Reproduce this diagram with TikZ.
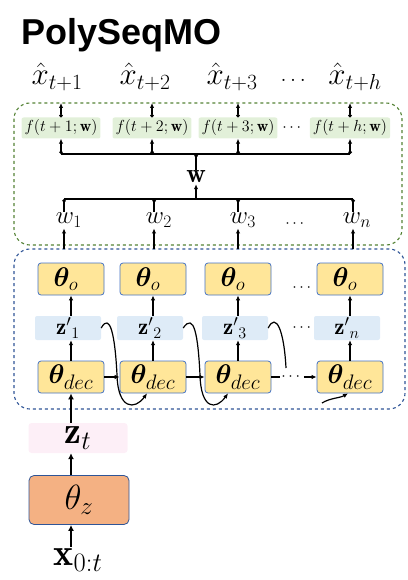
\RequirePackage{fix-cm}
\documentclass[tikz,border=0pt]{standalone}
\usepackage{amsmath,amssymb,bm}
\usepackage{fontspec}
\newfontfamily\titlefont{Liberation Sans}
\usepackage{xcolor}
\usepackage{tikz}
\usetikzlibrary{arrows.meta,positioning}

\definecolor{gline}{RGB}{84,130,53}
\definecolor{gfill}{RGB}{226,240,217}
\definecolor{bline}{RGB}{47,85,151}
\definecolor{bfill}{RGB}{222,235,247}
\definecolor{yfill}{RGB}{255,230,153}
\definecolor{yline}{RGB}{68,114,196}
\definecolor{pfill}{RGB}{253,239,247}
\definecolor{ofill}{RGB}{244,177,131}

\newcommand{\decsub}{\mbox{\fontsize{21}{22}\selectfont$dec$}}
\newcommand{\zsub}{\mbox{\fontsize{25}{27}\selectfont$z$}}

\tikzset{
  arr/.style={line width=1.2pt,-{Latex[length=5pt,width=4.5pt]}},
  dotarr/.style={line width=1.2pt,{Circle[length=3.5pt]}-{Latex[length=5pt,width=4.5pt]}},
  bigarr/.style={line width=2pt,-{Latex[length=6pt,width=6pt]}},
  fbox/.style={fill=gfill,rounded corners=2pt,minimum height=21pt,inner xsep=3pt,inner ysep=0pt,font=\fontsize{16}{18}\selectfont},
  obox/.style={fill=yfill,draw=yline,line width=0.8pt,rounded corners=3pt,minimum width=66pt,minimum height=32pt,inner sep=0pt,font=\fontsize{27}{29}\selectfont},
  zbox/.style={fill=bfill,rounded corners=2pt,minimum width=66pt,minimum height=24pt,inner sep=0pt,font=\fontsize{23}{25}\selectfont},
  lbl/.style={inner sep=1pt,font=\fontsize{31}{33}\selectfont},
  wlbl/.style={inner sep=1pt,font=\fontsize{25}{28}\selectfont},
  dotlbl/.style={inner sep=1pt,font=\fontsize{16}{18}\selectfont},
}

\begin{document}
\begin{tikzpicture}[x=1pt,y=-1pt]
\useasboundingbox (0,0) rectangle (407,580);

\node[anchor=base west,inner sep=0pt,font=\titlefont\bfseries\fontsize{36}{40}\selectfont] (title) at (21,45) {PolySeqMO};

% outputs
\foreach \x/\t [count=\i] in {57/1,145/2,232/3,355/h}
  \node[lbl] (xh\i) at (\x,77) {$\hat{x}_{t+\t}$};
\node[inner sep=1pt,font=\fontsize{22}{24}\selectfont] (xdots) at (295,80) {$\dots$};

% green block
\draw[gline,dashed,line width=1.1pt,rounded corners=16pt] (14,103) rectangle (402,245);
\coordinate (gtop) at (0,103);
\coordinate (btop) at (0,249);

\foreach \x/\t [count=\i] in {61/1,152/2,238/3,350/h}
  \node[fbox] (f\i) at (\x,128) {$f(t+\t;\mathbf{w})$};
\node[dotlbl] (fdots) at (293,128) {$\cdots$};
\foreach \i in {1,...,4}
  \draw[dotarr] (f\i.north) -- (f\i.north |- gtop);

% bus to f
\foreach \x [count=\i] in {61,152,238,350}
  \coordinate (ub\i) at (\x,154);
\coordinate (ubc) at (196,154);
\node[inner sep=1pt,font=\fontsize{27}{29}\selectfont] (wb) at (196,177) {$\mathbf{w}$};
\draw[line width=1.2pt] (ub1) -- (ub4);
\foreach \i in {1,...,4}
  \draw[dotarr] (ub\i) -- (f\i.south);
\draw[line width=1.2pt,{Circle[length=3.5pt]}-] (ubc) -- (wb.north);

% bus from w_i
\foreach \x [count=\i] in {64,154,238,353}
  \coordinate (lb\i) at (\x,199);
\coordinate (lbc) at (196,199);
\draw[line width=1.2pt] (lb1) -- (lb4);
\draw[arr] (lbc) -- (wb.south);
\foreach \x/\t [count=\i] in {69/1,159/2,243/3,357/n}
  \node[wlbl] (w\i) at (\x,220) {$w_{\t}$};
\node[dotlbl] (wdots) at (296,224) {$\cdots$};
\foreach \i in {1,...,4}
  \draw[line width=1.2pt,{Circle[length=3.5pt]}-] (lb\i) -- (lb\i |- w\i.north);

% blue block
\draw[bline,dashed,line width=1.1pt,rounded corners=16pt] (14,249) rectangle (405,409);
\foreach \i in {1,...,4}
  \draw[arr] (lb\i |- btop) -- (lb\i |- w\i.south);

\foreach \x/\t [count=\i] in {71/1,153/2,238/3,350/n} {
  \node[obox] (o\i) at (\x,279) {$\bm{\theta}_o$\hspace*{10pt}};
  \node[zbox] (zp\i) at (\x-3,328) {${\mathbf{z}'}_{\t}$};
  \node[obox] (dec\i) at (\x,377) {$\bm{\theta}_{\decsub}$};
  \draw[arr] (dec\i.north -| \x,0) -- (zp\i.south -| \x,0);
  \draw[arr] (zp\i.north -| \x,0) -- (o\i.south -| \x,0);
}
\node[dotlbl] (odots) at (303,288) {$\cdots$};
\node[dotlbl] (zdots) at (303,328) {$\cdots$};
\node[dotlbl] (ddots) at (292,377) {$\cdots$};

\draw[arr] (dec1) -- (dec2);
\draw[arr] (dec2) -- (dec3);
\draw[line width=1.2pt] (dec3.east) -- (ddots.west);
\draw[arr] (ddots.east) -- (dec4.west);

% feedback from z' to next decoder
\draw[arr] (zp1.east) .. controls (110,312) and (115,335) .. (117,375)
  .. controls (118,410) and (135,410) .. ([xshift=-6pt]dec2.south);
\draw[arr] (zp2.east) .. controls (194,312) and (198,335) .. (200,375)
  .. controls (201,410) and (216,410) .. ([xshift=-10pt]dec3.south);
\coordinate (cut) at (286,368);
\coordinate (resume) at (322,403);
\draw[line width=1.2pt] (zp3.east) .. controls (276,312) and (284,330) .. (cut);
\draw[arr] (resume) .. controls (330,398) and (340,398) .. ([xshift=-2pt]dec4.south);

% encoder
\node[fill=pfill,rounded corners=3pt,minimum width=99pt,minimum height=30pt,inner sep=0pt,font=\fontsize{38}{40}\selectfont] (zt) at (78,438) {$\mathbf{z}_t$};
\node[fill=ofill,draw=bline,line width=0.8pt,rounded corners=5pt,minimum width=100pt,minimum height=49pt,inner sep=0pt,font=\fontsize{35}{37}\selectfont] (thz) at (79,500) {$\theta_{\zsub}$};
\node[inner sep=2pt,font=\fontsize{38}{40}\selectfont] (xin) at (78,560) {$\mathbf{x}_{0:t}$};
\draw[bigarr] (dec1.south |- zt.north) -- (dec1.south);
\draw[bigarr] (dec1.south |- thz.north) -- (dec1.south |- zt.south);
\draw[bigarr] (dec1.south |- xin.north) -- (dec1.south |- thz.south);
\end{tikzpicture}
\end{document}
